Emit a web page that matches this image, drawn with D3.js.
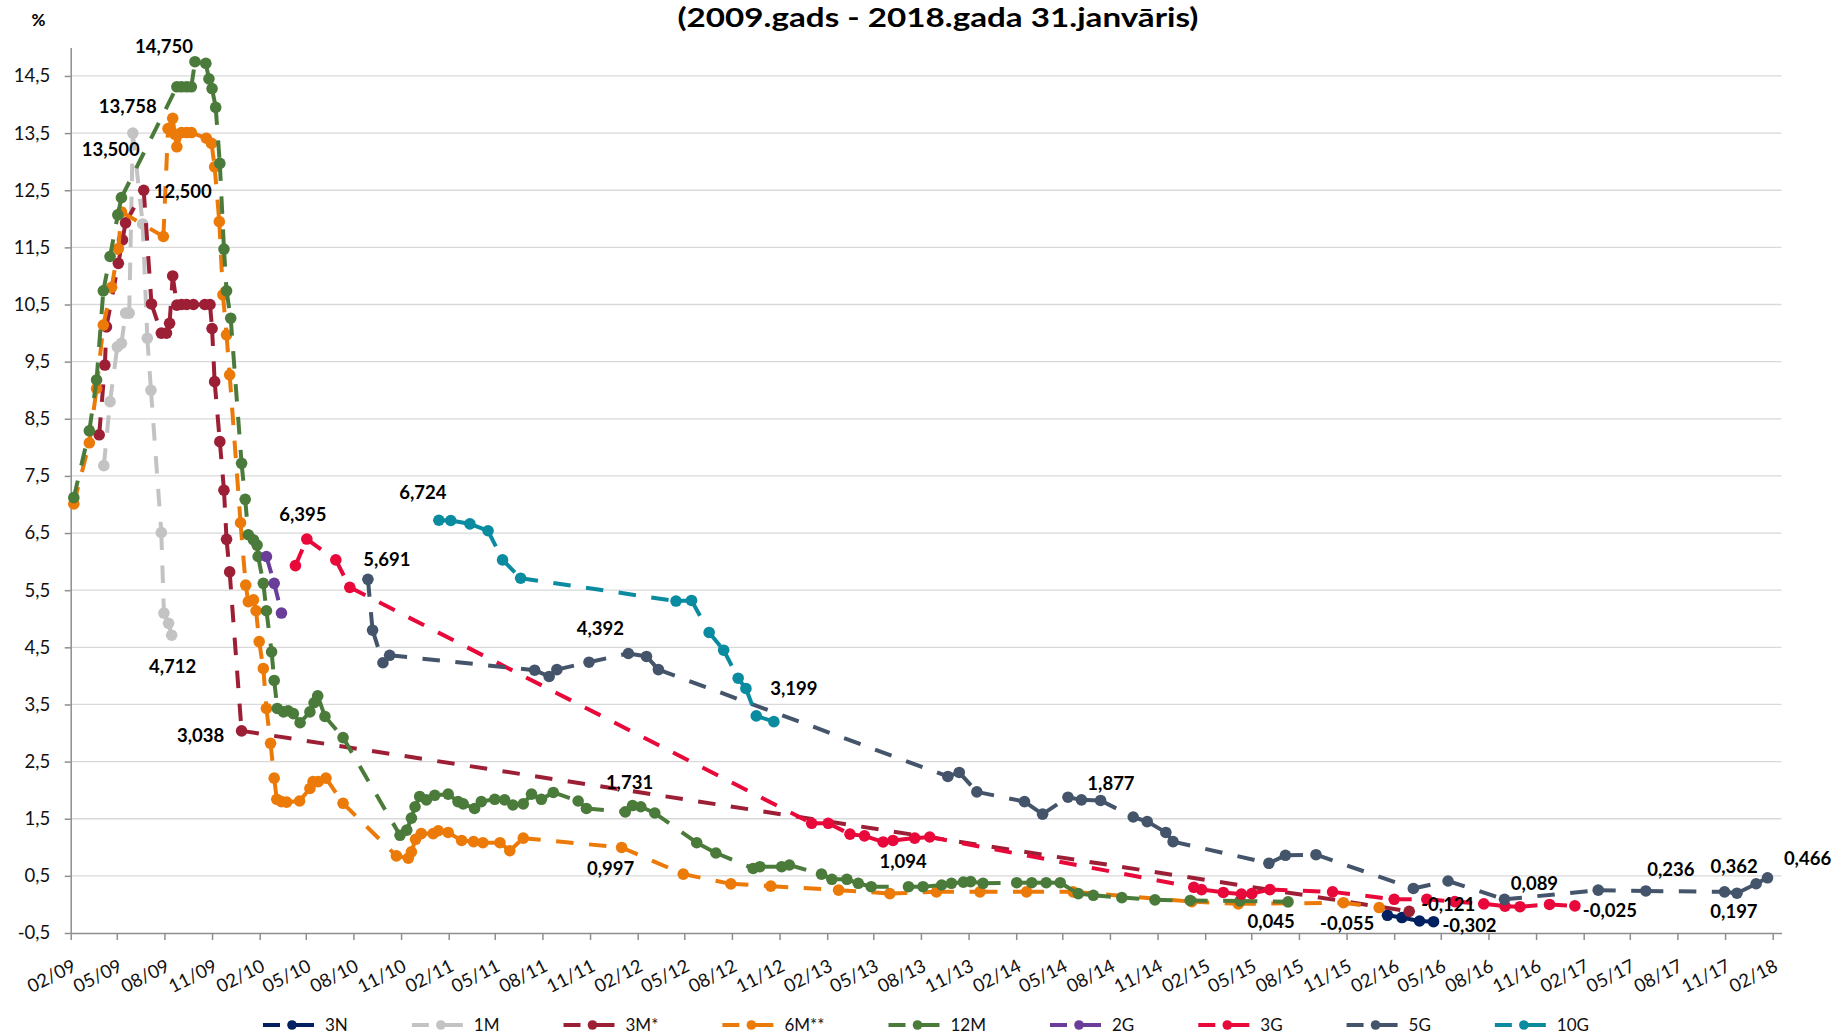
<!DOCTYPE html>
<html><head><meta charset="utf-8">
<script src="https://cdn.jsdelivr.net/npm/d3@7"></script>
<style>
body{margin:0;background:#fff}
svg{display:block}
text{font-family:Lato,"Open Sans",sans-serif}
</style>
</head><body>
<svg id="chart" width="1838" height="1035"></svg>
<script>
// ---------- DATA ----------
const titleText = "(2009.gads - 2018.gada 31.janvāris)";
const yUnit = "%";
const seriesNames = ["3N","1M","3M*","6M**","12M","2G","3G","5G","10G"];
const yTicks = [-0.5,0.5,1.5,2.5,3.5,4.5,5.5,6.5,7.5,8.5,9.5,10.5,11.5,12.5,13.5,14.5];
const xTickLabels = ["02/09","05/09","08/09","11/09","02/10","05/10","08/10","11/10","02/11","05/11","08/11","11/11",
  "02/12","05/12","08/12","11/12","02/13","05/13","08/13","11/13","02/14","05/14","08/14","11/14",
  "02/15","05/15","08/15","11/15","02/16","05/16","08/16","11/16","02/17","05/17","08/17","11/17","02/18"];

const s3N = [["2016-01-19",-0.19],["2016-02-16",-0.23],["2016-03-21",-0.29],["2016-04-17",-0.302]];
const s1M = [["2009-04-06",7.68],["2009-04-18",8.80],["2009-05-02",9.76],["2009-05-10",9.82],["2009-05-18",10.35],
  ["2009-05-25",10.35],["2009-06-01",13.5],["2009-06-20",11.91],["2009-06-29",9.91],["2009-07-06",9.00],
  ["2009-07-26",6.51],["2009-07-31",5.10],["2009-08-09",4.92],["2009-08-15",4.712]];
const s3M = [["2009-03-28",8.22],["2009-04-08",9.44],["2009-04-11",10.11],["2009-05-04",11.22],["2009-05-12",11.63],
  ["2009-05-18",11.93],["2009-06-22",12.5],["2009-07-07",10.51],["2009-07-26",10.00],["2009-08-05",10.00],
  ["2009-08-11",10.17],["2009-08-17",11.00],["2009-08-25",10.49],["2009-09-03",10.50],["2009-09-13",10.50],
  ["2009-09-26",10.50],["2009-10-18",10.50],["2009-10-28",10.50],["2009-11-01",10.08],["2009-11-06",9.15],
  ["2009-11-16",8.10],["2009-11-24",7.25],["2009-11-29",6.39],["2009-12-05",5.82],["2009-12-28",3.038],
  ["2016-03-01",-0.121]];
const s6M = [["2009-02-07",7.01],["2009-03-09",8.08],["2009-03-23",9.03],["2009-04-05",10.14],["2009-04-21",10.80],
  ["2009-05-04",11.48],["2009-05-10",12.12],["2009-07-30",11.69],["2009-08-08",13.58],["2009-08-17",13.758],
  ["2009-08-21",13.48],["2009-08-25",13.26],["2009-09-03",13.51],["2009-09-13",13.51],["2009-09-22",13.51],
  ["2009-10-21",13.41],["2009-10-31",13.32],["2009-11-06",12.91],["2009-11-15",11.95],["2009-11-22",10.67],
  ["2009-11-29",9.97],["2009-12-05",9.27],["2009-12-26",6.68],["2010-01-05",5.59],["2010-01-10",5.30],
  ["2010-01-20",5.33],["2010-01-25",5.14],["2010-01-31",4.60],["2010-02-08",4.13],["2010-02-14",3.43],
  ["2010-02-22",2.82],["2010-03-01",2.21],["2010-03-06",1.84],["2010-03-15",1.80],["2010-03-25",1.79],
  ["2010-04-19",1.81],["2010-05-09",2.03],["2010-05-15",2.15],["2010-05-25",2.15],["2010-06-09",2.21],
  ["2010-07-12",1.77],["2010-10-23",0.85],["2010-11-15",0.81],["2010-11-21",0.92],["2010-11-29",1.14],
  ["2010-12-10",1.24],["2011-01-02",1.24],["2011-01-12",1.29],["2011-01-31",1.26],["2011-02-26",1.12],
  ["2011-03-21",1.10],["2011-04-08",1.08],["2011-05-11",1.08],["2011-05-30",0.94],["2011-06-25",1.16],
  ["2012-01-01",0.997],["2012-04-29",0.53],["2012-07-30",0.36],["2012-10-15",0.32],["2013-02-23",0.25],
  ["2013-06-02",0.19],["2013-08-31",0.22],["2013-11-23",0.22],["2014-02-21",0.22],["2014-05-22",0.22],
  ["2015-01-06",0.05],["2015-04-06",0.01],["2015-10-26",0.03],["2016-01-03",-0.055]];
const s12M = [["2009-02-07",7.12],["2009-03-09",8.29],["2009-03-23",9.18],["2009-04-05",10.74],["2009-04-18",11.34],
  ["2009-05-03",12.07],["2009-05-10",12.37],["2009-08-25",14.31],["2009-09-03",14.31],["2009-09-13",14.31],
  ["2009-09-22",14.31],["2009-09-29",14.75],["2009-10-20",14.72],["2009-10-26",14.45],["2009-11-01",14.28],
  ["2009-11-08",13.95],["2009-11-16",12.97],["2009-11-24",11.47],["2009-11-29",10.74],["2009-12-07",10.26],
  ["2009-12-28",7.72],["2010-01-04",7.09],["2010-01-10",6.47],["2010-01-20",6.38],["2010-01-27",6.29],
  ["2010-01-29",6.09],["2010-02-08",5.62],["2010-02-14",5.14],["2010-02-24",4.42],["2010-03-01",3.92],
  ["2010-03-07",3.43],["2010-03-19",3.37],["2010-03-28",3.39],["2010-04-07",3.34],["2010-04-20",3.18],
  ["2010-05-09",3.37],["2010-05-17",3.53],["2010-05-24",3.65],["2010-06-07",3.29],["2010-07-12",2.92],
  ["2010-10-30",1.21],["2010-11-12",1.30],["2010-11-21",1.51],["2010-11-28",1.71],["2010-12-07",1.89],
  ["2010-12-20",1.83],["2011-01-05",1.91],["2011-01-31",1.93],["2011-02-19",1.80],["2011-03-01",1.76],
  ["2011-03-23",1.68],["2011-04-05",1.80],["2011-05-01",1.84],["2011-05-20",1.83],["2011-06-05",1.74],
  ["2011-06-25",1.76],["2011-07-11",1.93],["2011-07-30",1.84],["2011-08-22",1.96],["2011-10-09",1.81],
  ["2011-10-25",1.68],["2012-01-08",1.62],["2012-01-22",1.731],["2012-02-07",1.71],["2012-03-05",1.60],
  ["2012-05-25",1.08],["2012-07-01",0.90],["2012-09-11",0.63],["2012-09-24",0.66],["2012-11-05",0.66],
  ["2012-11-20",0.69],["2013-01-21",0.53],["2013-02-10",0.44],["2013-03-11",0.44],["2013-04-02",0.37],
  ["2013-04-27",0.31],["2013-07-08",0.31],["2013-08-05",0.31],["2013-09-10",0.34],["2013-09-29",0.37],
  ["2013-10-22",0.39],["2013-11-05",0.40],["2013-11-29",0.37],["2014-02-02",0.38],["2014-03-03",0.38],
  ["2014-03-31",0.38],["2014-04-27",0.38],["2014-06-01",0.19],["2014-06-30",0.16],["2014-08-24",0.12],
  ["2014-10-27",0.08],["2015-01-03",0.07],["2015-04-09",0.06],["2015-07-11",0.045]];
const s2G = [["2010-02-14",6.09],["2010-03-01",5.62],["2010-03-15",5.10]];
const s3G = [["2010-04-11",5.93],["2010-05-03",6.395],["2010-06-28",6.03],["2010-07-25",5.55],["2013-01-02",1.42],
  ["2013-02-03",1.42],["2013-03-17",1.23],["2013-04-14",1.20],["2013-05-20",1.094],["2013-06-08",1.12],
  ["2013-07-20",1.16],["2013-08-18",1.18],["2015-01-10",0.30],["2015-01-25",0.26],["2015-03-08",0.21],
  ["2015-04-12",0.18],["2015-05-02",0.19],["2015-06-06",0.26],["2015-10-05",0.22],["2016-02-01",0.09],
  ["2016-04-04",0.09],["2016-05-28",0.05],["2016-07-23",0.01],["2016-09-02",-0.03],["2016-10-01",-0.04],
  ["2016-11-27",0.00],["2017-01-15",-0.025]];
const s5G = [["2010-08-29",5.691],["2010-09-07",4.80],["2010-09-27",4.23],["2010-10-10",4.36],["2011-07-17",4.10],
  ["2011-08-14",3.99],["2011-08-29",4.11],["2011-10-30",4.24],["2012-01-14",4.392],["2012-02-18",4.34],
  ["2012-03-12",4.11],["2013-09-22",2.24],["2013-10-14",2.31],["2013-11-17",1.97],["2014-02-17",1.80],
  ["2014-03-24",1.58],["2014-05-12",1.877],["2014-06-07",1.83],["2014-07-14",1.82],["2014-09-15",1.53],
  ["2014-10-12",1.45],["2014-11-17",1.26],["2014-12-01",1.10],["2015-06-04",0.72],["2015-07-06",0.86],
  ["2015-09-03",0.87],["2016-03-09",0.28],["2016-05-15",0.41],["2016-09-01",0.089],["2017-03-01",0.25],
  ["2017-06-01",0.236],["2017-10-31",0.22],["2017-11-24",0.197],["2017-12-31",0.362],["2018-01-22",0.466]];
const s10G = [["2011-01-13",6.724],["2011-02-05",6.72],["2011-03-14",6.66],["2011-04-18",6.54],["2011-05-16",6.03],
  ["2011-06-20",5.71],["2012-04-15",5.31],["2012-05-15",5.32],["2012-06-18",4.76],["2012-07-16",4.45],
  ["2012-08-13",3.96],["2012-08-28",3.78],["2012-09-17",3.30],["2012-10-21",3.199]];

// labelled points: [series, date]
const labelledPoints = [["12M","2009-09-29"],["6M**","2009-08-17"],["1M","2009-06-01"],["3M*","2009-06-22"],
  ["1M","2009-08-15"],["3M*","2009-12-28"],["3G","2010-05-03"],["5G","2010-08-29"],["10G","2011-01-13"],
  ["5G","2012-01-14"],["10G","2012-10-21"],["12M","2012-01-22"],["6M**","2012-01-01"],["3G","2013-05-20"],
  ["5G","2014-05-12"],["12M","2015-07-11"],["6M**","2016-01-03"],["3M*","2016-03-01"],["3N","2016-04-17"],
  ["5G","2016-09-01"],["3G","2017-01-15"],["5G","2017-06-01"],["5G","2017-12-31"],["5G","2017-11-24"],
  ["5G","2018-01-22"]];

(function () {
// ---------- STYLE / LAYOUT ----------
const colors = {"3N":"#002060","1M":"#C3C3C3","3M*":"#9C1F35","6M**":"#EC7A08","12M":"#4B7B3A",
  "2G":"#6A3D9A","3G":"#E8083A","5G":"#44546A","10G":"#0A8BA0"};
const seriesData = {"3N":s3N,"1M":s1M,"3M*":s3M,"6M**":s6M,"12M":s12M,"2G":s2G,"3G":s3G,"5G":s5G,"10G":s10G};
// label offsets (px) from its point: [dx, dy]
const labelOffsets = [[-31,-9],[-45,-5],[-22,23],[39,8],[1,38],[-41,11],[-4,-18],[19,-13],[-16,-21],
  [-28,-18],[20,-27],[-3,-17],[-11,28],[20,26],[43,-7],[-17,26],[-32,22],[39,0],[36,10],
  [30,-9],[35,11],[25,-15],[-22,-11],[-3,25],[40,-13]];

const parse = d3.timeParse("%Y-%m-%d");
const svg = d3.select("#chart");
const pLeft = 70.7, pRight = 1781.5, pTop = 47.4, pBottom = 933;
const x = d3.scaleTime().domain([parse("2009-02-01"), parse("2018-02-18")]).range([pLeft, pRight]);
const y = d3.scaleLinear().domain([-0.5, 15]).range([pBottom, pTop]);
const fmtTick = d => (d < 0 ? "-" : "") + Math.abs(d).toFixed(1).replace(".", ",");
const fmtLabel = d => (d < 0 ? "-" : "") + Math.abs(d).toFixed(3).replace(".", ",");
const axisColor = "#8E8E8E";

// title
svg.append("text").attr("x", 938).attr("y", 26.5).attr("text-anchor", "middle")
  .attr("font-size", 26.5).attr("font-weight", 700).attr("fill", "#000")
  .attr("textLength", 521).attr("lengthAdjust", "spacingAndGlyphs").text(titleText);
svg.append("text").attr("x", 38.5).attr("y", 25.5).attr("text-anchor", "middle")
  .attr("font-size", 17).attr("font-weight", 700).attr("fill", "#000").text(yUnit);

// gridlines
svg.append("g").selectAll("line").data(yTicks.filter(d => d > -0.5)).join("line")
  .attr("x1", pLeft).attr("x2", pRight).attr("y1", d => y(d)).attr("y2", d => y(d))
  .attr("stroke", "#D9D9D9").attr("stroke-width", 1.3);

// y axis
const gy = svg.append("g").attr("transform", `translate(${pLeft},0)`)
  .call(d3.axisLeft(y).tickValues(yTicks).tickFormat(fmtTick).tickSize(6).tickSizeOuter(0));
gy.select(".domain").attr("stroke", axisColor).attr("stroke-width", 1.5);
gy.selectAll(".tick line").attr("stroke", axisColor).attr("stroke-width", 1.5);
gy.selectAll(".tick text").attr("x", -20.5).attr("font-size", 18.5).attr("fill", "#111")
  .style("font-family", "Lato");

// x axis
const xTickDates = xTickLabels.map(s => d3.timeParse("%m/%y")(s));
const gx = svg.append("g").attr("transform", `translate(0,${pBottom})`)
  .call(d3.axisBottom(x).tickValues(xTickDates).tickFormat(d3.timeFormat("%m/%y")).tickSize(7).tickSizeOuter(0));
gx.select(".domain").attr("stroke", axisColor).attr("stroke-width", 1.5);
gx.selectAll(".tick line").attr("stroke", axisColor).attr("stroke-width", 1.5);
gx.selectAll(".tick text").attr("y", 0).attr("dy", 0).attr("text-anchor", "end")
  .attr("transform", "translate(6,37) rotate(-27)")
  .attr("font-size", 18.5).attr("fill", "#111").style("font-family", "Lato");

// series
const dash = "17.5,15.5";
const lineGen = d3.line().x(d => x(parse(d[0]))).y(d => y(d[1]));
seriesNames.forEach(name => {
  const data = seriesData[name];
  const g = svg.append("g");
  const segs = d3.pairs(data);
  g.selectAll("path").data(segs).join("path")
    .attr("d", d => lineGen(d)).attr("fill", "none")
    .attr("stroke", colors[name]).attr("stroke-width", 4).attr("stroke-dasharray", dash);
  g.selectAll("circle").data(data).join("circle")
    .attr("cx", d => x(parse(d[0]))).attr("cy", d => y(d[1])).attr("r", 5.8)
    .attr("fill", colors[name]);
});

// data labels
const gl = svg.append("g");
labelledPoints.forEach((lp, i) => {
  const pt = seriesData[lp[0]].find(d => d[0] === lp[1]);
  const off = labelOffsets[i];
  gl.append("text").attr("x", x(parse(pt[0])) + off[0]).attr("y", y(pt[1]) + off[1])
    .attr("text-anchor", "middle").attr("font-size", 18.5).attr("font-weight", 700)
    .attr("fill", "#000").text(fmtLabel(pt[1]));
});

// legend
const lg = svg.append("g").attr("transform", "translate(0,1025)");
const items = lg.selectAll("g").data(seriesNames).join("g");
items.append("text").attr("y", 6).attr("font-size", 17).attr("fill", "#111").text(d => d);
const widths = [];
items.select("text").each(function () { widths.push(this.getComputedTextLength()); });
const gap = 64, sym = 62;
const total = d3.sum(widths) + sym * widths.length + gap * (widths.length - 1);
let cx = 926 - total / 2;
items.each(function (d, i) {
  const it = d3.select(this).attr("transform", `translate(${cx},0)`);
  it.append("line").attr("x1", 0).attr("x2", 17).attr("stroke", colors[d]).attr("stroke-width", 4);
  it.append("line").attr("x1", 27).attr("x2", 51).attr("stroke", colors[d]).attr("stroke-width", 4);
  it.append("circle").attr("cx", 29).attr("r", 4.8).attr("fill", colors[d]);
  it.select("text").attr("x", sym).raise();
  cx += sym + widths[i] + gap;
});
})();
</script>
</body></html>
